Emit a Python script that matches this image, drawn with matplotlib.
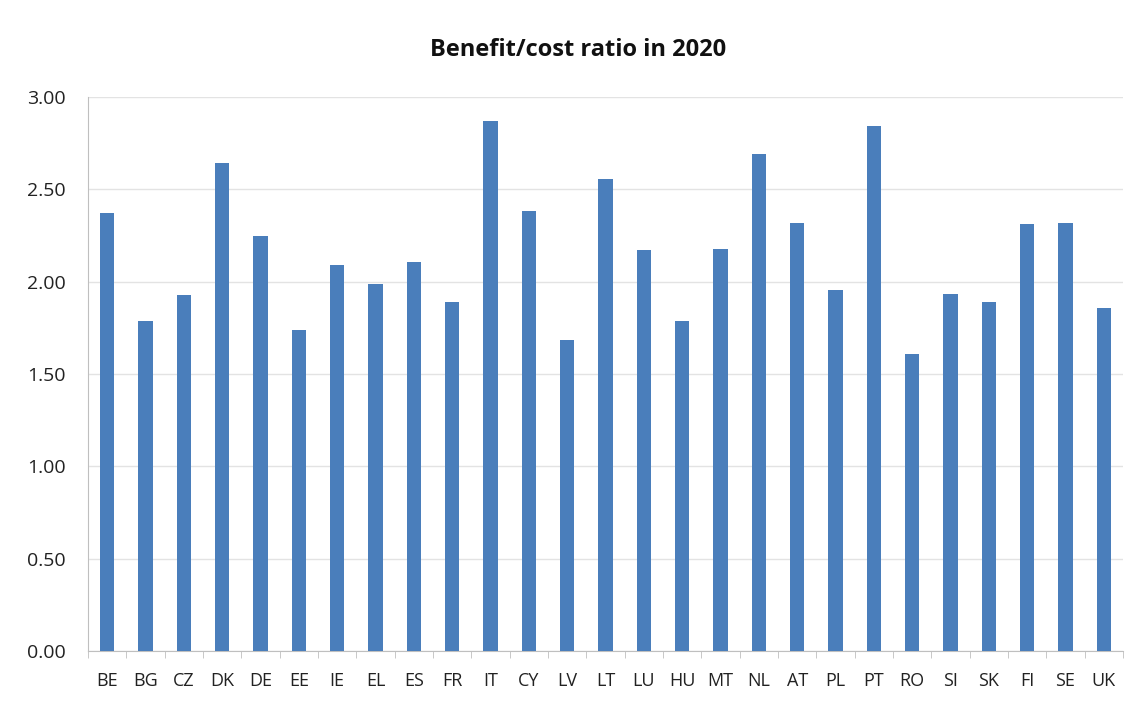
import matplotlib
matplotlib.use("Agg")
import matplotlib.pyplot as plt
import numpy as np

countries = ["BE", "BG", "CZ", "DK", "DE", "EE", "IE", "EL", "ES", "FR",
             "IT", "CY", "LV", "LT", "LU", "HU", "MT", "NL", "AT", "PL",
             "PT", "RO", "SI", "SK", "FI", "SE", "UK"]
ratio = [2.37, 1.785, 1.93, 2.64, 2.245, 1.74, 2.09, 1.99, 2.105, 1.89,
         2.87, 2.38, 1.685, 2.555, 2.17, 1.785, 2.175, 2.69, 2.315, 1.957,
         2.845, 1.61, 1.935, 1.89, 2.31, 2.315, 1.86]
yticks = [0.0, 0.5, 1.0, 1.5, 2.0, 2.5, 3.0]

plt.rcParams['font.family'] = ['Open Sans', 'DejaVu Sans']

fig = plt.figure(figsize=(11.36, 7.02), dpi=100)
ax = fig.add_axes([88/1136, 51/702, (1123-88)/1136, (651-97)/702])

x = np.arange(len(countries))
ax.bar(x, ratio, width=0.38, color="#4a7ebb", zorder=3)

ax.set_xlim(-0.5, len(countries) - 0.5)
ax.set_ylim(0, 3.0)
ax.set_yticks(yticks)
ax.set_yticklabels(["%.2f" % v for v in yticks], fontsize=14, color="#222222")
ax.set_xticks(x)
ax.set_xticklabels(countries, fontsize=13, color="#222222")
ax.set_xticks(np.arange(-0.5, len(countries), 1.0), minor=True)

ax.tick_params(axis="x", which="major", length=0, pad=15)
ax.tick_params(axis="x", which="minor", length=5, color="#bfbfbf", direction="out")
ax.tick_params(axis="y", length=0, pad=16)

ax.grid(axis="y", color="#e3e3e3", linewidth=1, zorder=0)
for s in ["top", "right"]:
    ax.spines[s].set_visible(False)
ax.spines["left"].set_color("#bfbfbf")
ax.spines["bottom"].set_color("#bfbfbf")

fig.text(578/1136, 1 - 50/702, "Benefit/cost ratio in 2020", ha="center", va="center",
         fontsize=17, fontweight="bold", color="#111111")

fig.savefig("out.png", dpi=100)
